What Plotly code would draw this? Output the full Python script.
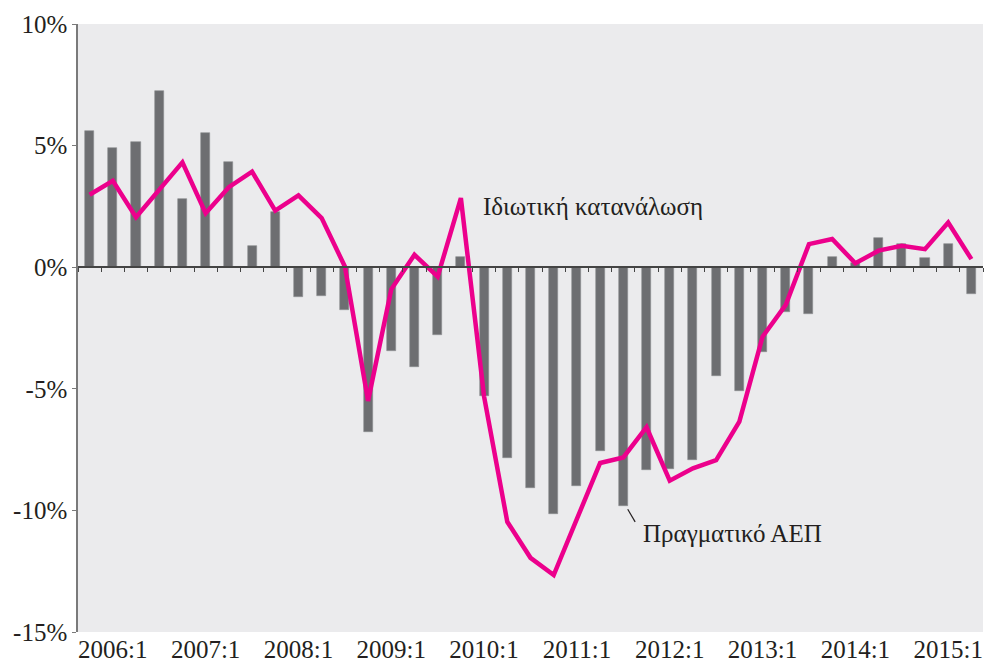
import plotly.graph_objects as go

# Quarters 2005:4 .. 2015:2
quarters = ["2005:4"] + [f"{y}:{q}" for y in range(2006, 2015) for q in range(1, 5)] + ["2015:1", "2015:2"]

# Real GDP (bars), % y/y
gdp = [5.61, 4.90, 5.16, 7.23, 2.82, 5.51, 4.32, 0.89, 2.25, -1.23,
       -1.19, -1.76, -6.79, -3.44, -4.09, -2.77, 0.41, -5.28, -7.83, -9.09,
       -10.16, -8.99, -7.56, -9.82, -8.34, -8.31, -7.93, -4.47, -5.09, -3.47,
       -1.83, -1.94, 0.44, 0.19, 1.22, 0.95, 0.37, 0.95, -1.10]

# Private consumption (line), % y/y
cons = [2.98, 3.55, 2.06, 3.19, 4.31, 2.22, 3.29, 3.93, 2.33, 2.95,
        2.02, 0.03, -5.50, -0.91, 0.51, -0.39, 2.84, -5.32, -10.47, -11.95,
        -12.66, -10.35, -8.05, -7.82, -6.58, -8.78, -8.27, -7.93, -6.35, -2.86,
        -1.55, 0.95, 1.16, 0.16, 0.68, 0.88, 0.74, 1.84, 0.33]

tick_labels = ["2006:1", "2007:1", "2008:1", "2009:1", "2010:1",
               "2011:1", "2012:1", "2013:1", "2014:1", "2015:1"]
y_ticks = [10, 5, 0, -5, -10, -15]
y_labels = ["10%", "5%", "0%", "-5%", "-10%", "-15%"]

label_cons = "Ιδιωτική κατανάλωση"
label_gdp = "Πραγματικό ΑΕΠ"

idx = list(range(len(quarters)))
tick_idx = [quarters.index(t) for t in tick_labels]

FONT = "Liberation Serif"
TXT = "#231f20"

fig = go.Figure()
fig.add_trace(go.Bar(x=idx, y=gdp, width=0.39,
                     marker=dict(color="#6d6e71", line=dict(color="#8c8d90", width=0.6)),
                     hovertext=quarters, showlegend=False))
fig.add_trace(go.Scatter(x=idx, y=cons, mode="lines",
                         line=dict(color="#ec008c", width=4.5),
                         hovertext=quarters, showlegend=False))
# invisible trace on the zero-line axis so that it is drawn
fig.add_trace(go.Scatter(x=idx, y=[0] * len(idx), xaxis="x2", mode="lines",
                         line=dict(width=0), hoverinfo="skip", showlegend=False))

n = len(quarters)
fig.update_layout(
    width=984, height=665,
    margin=dict(l=78, r=1, t=24, b=33, autoexpand=False),
    paper_bgcolor="white",
    plot_bgcolor="#ebebed",
    font=dict(family=FONT, size=25, color=TXT),
    bargap=0,
    xaxis=dict(range=[-0.5, n - 0.5], tickmode="array", tickvals=tick_idx,
               ticktext=tick_labels, showgrid=False, zeroline=False,
               showline=False, ticks="", automargin=False,
               ticklabeloverflow="allow",
               tickfont=dict(family=FONT, size=25, color=TXT)),
    xaxis2=dict(range=[-0.5, n - 0.5], overlaying="x", anchor="free", position=0.6,
                side="bottom", tickmode="linear", tick0=-0.5, dtick=1,
                showticklabels=False, ticks="outside", ticklen=4, tickwidth=1.2,
                tickcolor="#444444", showline=True, linecolor="#444444", linewidth=1.5,
                showgrid=False, zeroline=False),
    yaxis=dict(range=[-15, 10], tickvals=y_ticks, ticktext=y_labels,
               showgrid=False, zeroline=False, showline=True, linecolor="#7a7a7a",
               linewidth=1.5, ticks="outside", ticklen=4, tickcolor="#7a7a7a",
               tickwidth=1.2, automargin=False,
               tickfont=dict(family=FONT, size=25, color=TXT)),
    annotations=[
        dict(x=16.87, y=2.48, xref="x", yref="y", text=label_cons, showarrow=False,
             xanchor="left", yanchor="middle", font=dict(family=FONT, size=25, color=TXT)),
        dict(x=23.77, y=-10.95, xref="x", yref="y", text=label_gdp, showarrow=False,
             xanchor="left", yanchor="middle", font=dict(family=FONT, size=25, color=TXT)),
    ],
    shapes=[
        dict(type="line", xref="x", yref="y", x0=23.19, y0=-9.95, x1=23.51, y1=-10.47,
             line=dict(color=TXT, width=1.2)),
    ],
)

fig.write_html("out.html", config={"displayModeBar": False},
               post_script="document.body.style.margin='0px';")
